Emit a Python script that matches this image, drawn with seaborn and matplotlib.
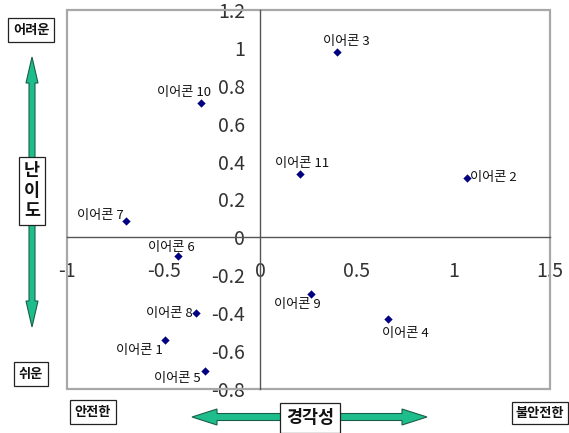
import matplotlib
matplotlib.use("Agg")
import matplotlib.pyplot as plt
import matplotlib.transforms as mtransforms
from matplotlib.patches import FancyArrow, Rectangle
from matplotlib.ticker import FuncFormatter, MultipleLocator
import pandas as pd
import seaborn as sns

# Earphone positions: x = alertness (안전한 → 불안전한), y = difficulty (쉬운 → 어려운)
names = ["이어콘 1", "이어콘 2", "이어콘 3", "이어콘 4", "이어콘 5", "이어콘 6",
         "이어콘 7", "이어콘 8", "이어콘 9", "이어콘 10", "이어콘 11"]
x_vals = [-0.493, 1.07, 0.40, 0.66, -0.286, -0.424, -0.695, -0.33, 0.261, -0.308, 0.205]
y_vals = [-0.541, 0.313, 0.98, -0.432, -0.705, -0.10, 0.087, -0.40, -0.299, 0.708, 0.335]

x_ticks = [-1, -0.5, 0, 0.5, 1, 1.5]
y_ticks = [-0.8, -0.6, -0.4, -0.2, 0, 0.2, 0.4, 0.6, 0.8, 1, 1.2]

df = pd.DataFrame({"name": names, "x": x_vals, "y": y_vals})

sns.set_style("white")
plt.rcParams["font.family"] = ["Noto Sans CJK KR", "DejaVu Sans"]
plt.rcParams["axes.unicode_minus"] = False

W, H = 569, 433
fig = plt.figure(figsize=(W / 100, H / 100), dpi=100)
ax = fig.add_axes([67 / W, 1 - 389 / H, 483 / W, 379 / H])

sns.scatterplot(data=df, x="x", y="y", marker="D", s=18, color="#000080",
                edgecolor="#000080", linewidth=0, ax=ax, zorder=5)

ax.set_xlim(x_ticks[0], x_ticks[-1])
ax.set_ylim(y_ticks[0], y_ticks[-1])
ax.xaxis.set_major_locator(MultipleLocator(0.5))
ax.yaxis.set_major_locator(MultipleLocator(0.2))
fmt = FuncFormatter(lambda v, p: "%g" % round(v, 2))
ax.xaxis.set_major_formatter(fmt)
ax.yaxis.set_major_formatter(fmt)
ax.set_xlabel("")
ax.set_ylabel("")

# Axis lines cross at the origin
for side in ("left", "bottom"):
    ax.spines[side].set_position(("data", 0))
    ax.spines[side].set_color("#555555")
    ax.spines[side].set_linewidth(1.0)
    ax.spines[side].set_zorder(3)
for side in ("top", "right"):
    ax.spines[side].set_visible(False)

ax.tick_params(axis="both", direction="in", length=4, width=1, color="#555555",
               labelsize=14, labelcolor="#333333")
ax.tick_params(axis="y", pad=11)
ax.tick_params(axis="x", pad=17)

# Plot-area frame
ax.add_patch(Rectangle((0, 0), 1, 1, transform=ax.transAxes, fill=False,
                       edgecolor="#a8a8a8", linewidth=1.6, zorder=2, clip_on=False))

# Point labels
label_pos = {
    "이어콘 1": ("right", -2, -11),
    "이어콘 2": ("left", 3, 1),
    "이어콘 3": ("left", -14, 10),
    "이어콘 4": ("left", -6, -14),
    "이어콘 5": ("right", -4, -8),
    "이어콘 6": ("center", -7, 9),
    "이어콘 7": ("right", -2, 5),
    "이어콘 8": ("right", -4, 0),
    "이어콘 9": ("right", 10, -10),
    "이어콘 10": ("right", 10, 11),
    "이어콘 11": ("left", -25, 10),
}
for n, xv, yv in zip(names, x_vals, y_vals):
    ha, dx, dy = label_pos[n]
    ax.annotate(n, (xv, yv), xytext=(dx, dy), textcoords="offset pixels",
                ha=ha, va="center", fontsize=9.5, color="#111111", zorder=6)

# Figure-level decorations in pixel coordinates (origin top-left)
pix = mtransforms.Affine2D().scale(1 / 100, -1 / 100).translate(0, H / 100) + fig.dpi_scale_trans

green = "#1DBE8C"
edge = "#1b5e48"

def arrow(x0, y0, x1, y1, width, head_w, head_l):
    fig.patches.append(FancyArrow(x0, y0, x1 - x0, y1 - y0, width=width,
                                  head_width=head_w, head_length=head_l,
                                  length_includes_head=True, transform=pix,
                                  facecolor=green, edgecolor=edge, linewidth=0.8,
                                  figure=fig, zorder=1))

# Vertical difficulty arrow
arrow(32, 191, 32, 57, 6, 12, 26)
arrow(32, 191, 32, 327, 6, 12, 26)
# Horizontal alertness arrow
arrow(310, 417, 192, 417, 7, 16, 25)
arrow(310, 417, 427, 417, 7, 16, 25)

def boxed(x, y, s, size, pad, **kw):
    box = dict(boxstyle="square,pad=%g" % pad, facecolor="white",
               edgecolor="#222222", linewidth=0.9)
    fig.text(x, y, s, transform=pix, ha="center", va="center", fontsize=size,
             fontweight="bold", color="#111111", bbox=box, zorder=3, **kw)

boxed(31, 30, "어려운", 9.5, 0.35)
boxed(31, 374, "쉬운", 9.5, 0.35)
boxed(32, 191, "난\n이\n도", 12.5, 0.3, linespacing=1.15)
boxed(93, 412, "안전한", 9.5, 0.35)
boxed(310, 418, "경각성", 12.5, 0.35)
boxed(540, 413, "불안전한", 9.5, 0.3)

fig.savefig("out.png", dpi=100)
